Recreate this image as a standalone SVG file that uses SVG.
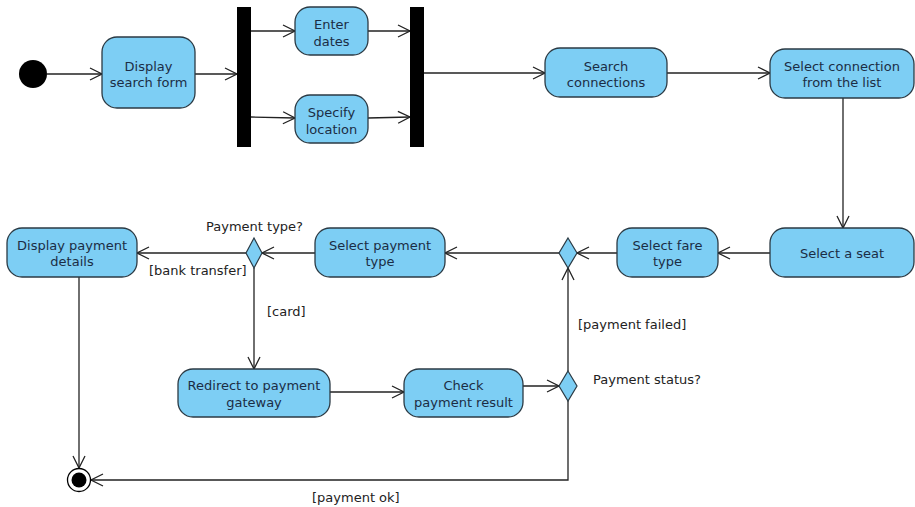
<svg xmlns="http://www.w3.org/2000/svg" width="915" height="507" viewBox="0 0 915 507">
<style>
.act{fill:#7dcef4;stroke:#2b3a44;stroke-width:1.3}
.dec{fill:#7dcef4;stroke:#2b3a44;stroke-width:1.2}
.bar{fill:#000}
.nt{font-family:"DejaVu Sans",sans-serif;font-size:13px;fill:#1b2d45;text-anchor:middle}
.lb{font-family:"DejaVu Sans",sans-serif;font-size:13px;fill:#222}
.c{fill:none;stroke:#222;stroke-width:1.3}
</style>
<defs>
<marker id="arr" markerUnits="userSpaceOnUse" markerWidth="14" markerHeight="14" viewBox="0 0 14 14" refX="13" refY="7" orient="auto">
<path d="M1,1 L13,7 L1,13" fill="none" stroke="#222" stroke-width="1.3"/>
</marker>
</defs>
<rect width="915" height="507" fill="#fff"/>
<g id="connectors">
<line class="c" x1="47" y1="74" x2="102" y2="74" marker-end="url(#arr)"/>
<line class="c" x1="195" y1="74" x2="237" y2="74" marker-end="url(#arr)"/>
<line class="c" x1="251" y1="31" x2="295" y2="31" marker-end="url(#arr)"/>
<line class="c" x1="251" y1="117" x2="295" y2="118" marker-end="url(#arr)"/>
<line class="c" x1="368" y1="31" x2="410" y2="31" marker-end="url(#arr)"/>
<line class="c" x1="368" y1="118" x2="410" y2="117" marker-end="url(#arr)"/>
<line class="c" x1="424" y1="73" x2="545" y2="73" marker-end="url(#arr)"/>
<line class="c" x1="667" y1="73" x2="770" y2="73" marker-end="url(#arr)"/>
<line class="c" x1="843" y1="98" x2="843" y2="228" marker-end="url(#arr)"/>
<line class="c" x1="770" y1="253" x2="718" y2="253" marker-end="url(#arr)"/>
<line class="c" x1="617" y1="253" x2="577" y2="253" marker-end="url(#arr)"/>
<line class="c" x1="559" y1="253" x2="445" y2="253" marker-end="url(#arr)"/>
<line class="c" x1="315" y1="253" x2="262" y2="253" marker-end="url(#arr)"/>
<line class="c" x1="246" y1="253" x2="137" y2="253" marker-end="url(#arr)"/>
<line class="c" x1="254" y1="268" x2="254" y2="369" marker-end="url(#arr)"/>
<line class="c" x1="330" y1="392" x2="404" y2="392" marker-end="url(#arr)"/>
<line class="c" x1="523" y1="386" x2="559" y2="386" marker-end="url(#arr)"/>
<line class="c" x1="568" y1="371" x2="568" y2="268" marker-end="url(#arr)"/>
<polyline class="c" points="568,401 568,480 91,480" marker-end="url(#arr)"/>
<line class="c" x1="79" y1="277" x2="79" y2="468" marker-end="url(#arr)"/>
</g>
<g id="start"><circle cx="33" cy="74" r="14" fill="#000"/></g>
<g id="displaySearchForm"><rect class="act" x="102" y="37" width="93" height="71" rx="15"/><text class="nt" x="148.5" y="71">Display</text><text class="nt" x="148.5" y="87">search form</text></g>
<g id="fork"><rect class="bar" x="237" y="7" width="14" height="140"/></g>
<g id="enterDates"><rect class="act" x="295" y="7" width="73" height="48" rx="15"/><text class="nt" x="331.5" y="29">Enter</text><text class="nt" x="331.5" y="46">dates</text></g>
<g id="specifyLocation"><rect class="act" x="295" y="95" width="73" height="48" rx="15"/><text class="nt" x="331.5" y="117">Specify</text><text class="nt" x="331.5" y="134">location</text></g>
<g id="join"><rect class="bar" x="410" y="7" width="14" height="140"/></g>
<g id="searchConnections"><rect class="act" x="545" y="48" width="122" height="49" rx="15"/><text class="nt" x="606" y="71">Search</text><text class="nt" x="606" y="87">connections</text></g>
<g id="selectConnection"><rect class="act" x="770" y="49" width="144" height="49" rx="15"/><text class="nt" x="842" y="71">Select connection</text><text class="nt" x="842" y="87">from the list</text></g>
<g id="selectSeat"><rect class="act" x="770" y="228" width="144" height="49" rx="15"/><text class="nt" x="842" y="258">Select a seat</text></g>
<g id="selectFareType"><rect class="act" x="617" y="228" width="101" height="49" rx="15"/><text class="nt" x="667.5" y="250">Select fare</text><text class="nt" x="667.5" y="266">type</text></g>
<g id="mergeDecision"><polygon class="dec" points="568,238 577,253 568,268 559,253"/></g>
<g id="selectPaymentType"><rect class="act" x="315" y="228" width="130" height="49" rx="15"/><text class="nt" x="380" y="250">Select payment</text><text class="nt" x="380" y="266">type</text></g>
<g id="paymentTypeDecision"><polygon class="dec" points="254,238 262,253 254,268 246,253"/><text class="lb" x="254.5" y="231" text-anchor="middle">Payment type?</text></g>
<g id="displayPaymentDetails"><rect class="act" x="7" y="228" width="130" height="49" rx="15"/><text class="nt" x="72" y="250">Display payment</text><text class="nt" x="72" y="266">details</text></g>
<g id="redirect"><rect class="act" x="178" y="369" width="152" height="48" rx="15"/><text class="nt" x="254" y="390">Redirect to payment</text><text class="nt" x="254" y="407">gateway</text></g>
<g id="checkResult"><rect class="act" x="404" y="369" width="119" height="48" rx="15"/><text class="nt" x="463.5" y="390">Check</text><text class="nt" x="463.5" y="407">payment result</text></g>
<g id="paymentStatusDecision"><polygon class="dec" points="568,371 577,386 568,401 559,386"/><text class="lb" x="593" y="384">Payment status?</text></g>
<g id="final"><circle cx="79" cy="480" r="11.5" fill="#fff" stroke="#000" stroke-width="1.3"/><circle cx="79" cy="480" r="7.5" fill="#000"/></g>
<g id="labels">
<text class="lb" x="149" y="275">[bank transfer]</text>
<text class="lb" x="267" y="316">[card]</text>
<text class="lb" x="578" y="329">[payment failed]</text>
<text class="lb" x="312" y="502">[payment ok]</text>
</g>
</svg>
